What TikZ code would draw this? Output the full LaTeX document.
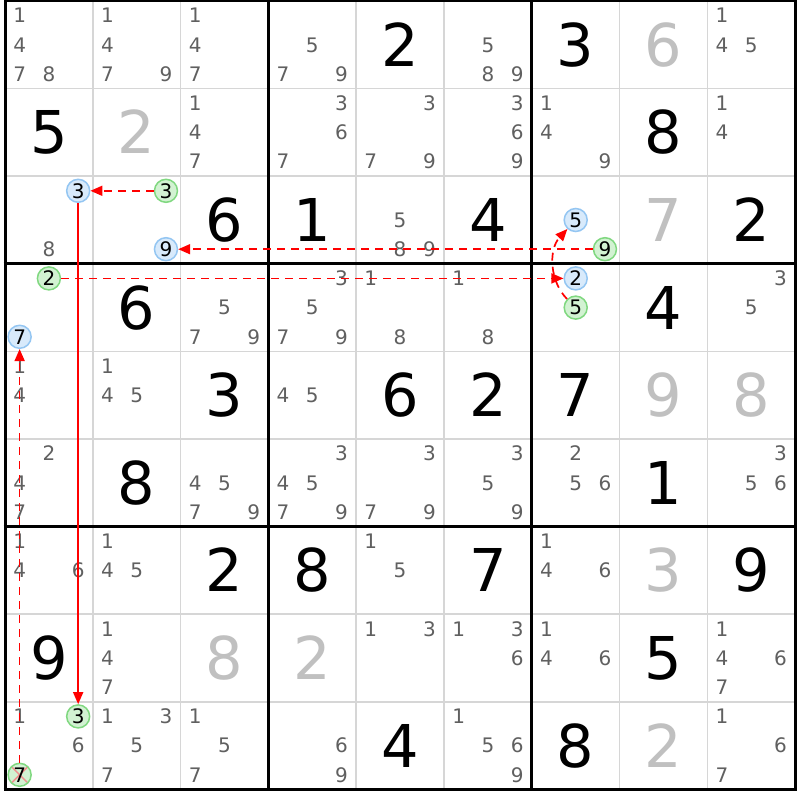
\documentclass[tikz,border=0pt]{standalone}
\usepackage{fontspec}
\setmainfont{DejaVu Sans}
\usetikzlibrary{arrows.meta}
\definecolor{candc}{HTML}{606060}
\definecolor{solvc}{HTML}{C0C0C0}
\definecolor{thinc}{HTML}{D6D6D6}
\definecolor{bfill}{HTML}{D8EAFB}
\definecolor{bdraw}{HTML}{94C6F2}
\definecolor{gfill}{HTML}{D2F2D2}
\definecolor{gdraw}{HTML}{80D880}
\definecolor{linkc}{HTML}{FF0000}
\definecolor{xcol}{HTML}{F09090}
\tikzset{
  bigdig/.style={inner sep=0pt,text height=43pt,text depth=0pt,font=\fontsize{59}{59}\selectfont},
  givdig/.style={bigdig,text=black},
  soldig/.style={bigdig,text=solvc},
  candig/.style={inner sep=0pt,text height=14.5pt,text depth=0pt,font=\fontsize{20}{20}\selectfont,text=candc},
  circdig/.style={circle,minimum size=23pt,inner sep=0pt,line width=1.5pt,text height=14.5pt,text depth=0pt,font=\fontsize{20}{20}\selectfont,text=black},
  bcirc/.style={circdig,fill=bfill,draw=bdraw},
  gcirc/.style={circdig,fill=gfill,draw=gdraw},
  linkline/.style={draw=linkc,line width=1.7pt,-{Triangle[length=12pt,width=10pt]}},
  linkdash/.style={linkline,dash pattern=on 8pt off 6pt},
}
\newcommand\bigd[4]{\node[#4] (big#1#2) at ({5+(#2-0.5)*87.8},{1+(#1-0.5)*87.6}) {#3};}
\newcommand\cands[3]{\foreach \d in {#3} {\node[candig] (c#1#2-\d) at ({5+(#2-1)*87.8+(mod(\d-1,3)+0.5)*29.2667},{1+(#1-1)*87.6+(floor((\d-1)/3)+0.5)*29.2}) {\d};}}
\newcommand\circd[5]{\node[#1] (#5) at ({5+(#3-1)*87.8+(mod(#4-1,3)+0.5)*29.2667},{1+(#2-1)*87.6+(floor((#4-1)/3)+0.5)*29.2}) {#4};}
\begin{document}
\begin{tikzpicture}[x=1pt,y=-1pt]
\fill[white] (0,0) rectangle (800,800);
\useasboundingbox (0,0) rectangle (800,800);
% thin grid
\foreach \i in {1,2,4,5,7,8} {
  \draw[thinc,line width=1.5pt] ({5+\i*87.8},1) -- ({5+\i*87.8},789.4);
  \draw[thinc,line width=1.5pt] (5,{1+\i*87.6}) -- (795.2,{1+\i*87.6});
}
\foreach \i in {0,3,6,9} {
  \draw[black,line width=3pt] ({5+\i*87.8},-0.5) -- ({5+\i*87.8},790.9);
  \draw[black,line width=3pt] (3.5,{1+\i*87.6}) -- (796.7,{1+\i*87.6});
}
% given / solved digits
\bigd{1}{5}{2}{givdig} \bigd{1}{7}{3}{givdig} \bigd{1}{8}{6}{soldig}
\bigd{2}{1}{5}{givdig} \bigd{2}{2}{2}{soldig} \bigd{2}{8}{8}{givdig}
\bigd{3}{3}{6}{givdig} \bigd{3}{4}{1}{givdig} \bigd{3}{6}{4}{givdig} \bigd{3}{8}{7}{soldig} \bigd{3}{9}{2}{givdig}
\bigd{4}{2}{6}{givdig} \bigd{4}{8}{4}{givdig}
\bigd{5}{3}{3}{givdig} \bigd{5}{5}{6}{givdig} \bigd{5}{6}{2}{givdig} \bigd{5}{7}{7}{givdig} \bigd{5}{8}{9}{soldig} \bigd{5}{9}{8}{soldig}
\bigd{6}{2}{8}{givdig} \bigd{6}{8}{1}{givdig}
\bigd{7}{3}{2}{givdig} \bigd{7}{4}{8}{givdig} \bigd{7}{6}{7}{givdig} \bigd{7}{8}{3}{soldig} \bigd{7}{9}{9}{givdig}
\bigd{8}{1}{9}{givdig} \bigd{8}{3}{8}{soldig} \bigd{8}{4}{2}{soldig} \bigd{8}{8}{5}{givdig}
\bigd{9}{5}{4}{givdig} \bigd{9}{7}{8}{givdig} \bigd{9}{8}{2}{soldig}
% candidates
\cands{1}{1}{1,4,7,8} \cands{1}{2}{1,4,7,9} \cands{1}{3}{1,4,7} \cands{1}{4}{5,7,9} \cands{1}{6}{5,8,9} \cands{1}{9}{1,4,5}
\cands{2}{3}{1,4,7} \cands{2}{4}{3,6,7} \cands{2}{5}{3,7,9} \cands{2}{6}{3,6,9} \cands{2}{7}{1,4,9} \cands{2}{9}{1,4}
\cands{3}{1}{8} \cands{3}{5}{5,8,9}
\cands{4}{3}{5,7,9} \cands{4}{4}{3,5,7,9} \cands{4}{5}{1,8} \cands{4}{6}{1,8} \cands{4}{9}{3,5}
\cands{5}{1}{1,4} \cands{5}{2}{1,4,5} \cands{5}{4}{4,5}
\cands{6}{1}{2,4,7} \cands{6}{3}{4,5,7,9} \cands{6}{4}{3,4,5,7,9} \cands{6}{5}{3,7,9} \cands{6}{6}{3,5,9} \cands{6}{7}{2,5,6} \cands{6}{9}{3,5,6}
\cands{7}{1}{1,4,6} \cands{7}{2}{1,4,5} \cands{7}{5}{1,5} \cands{7}{7}{1,4,6}
\cands{8}{2}{1,4,7} \cands{8}{5}{1,3} \cands{8}{6}{1,3,6} \cands{8}{7}{1,4,6} \cands{8}{9}{1,4,6,7}
\cands{9}{1}{1,6} \cands{9}{2}{1,3,5,7} \cands{9}{3}{1,5,7} \cands{9}{4}{6,9} \cands{9}{6}{1,5,6,9} \cands{9}{9}{1,6,7}
% circled candidates
\circd{bcirc}{3}{1}{3}{b31-3}
\circd{gcirc}{3}{2}{3}{g32-3}
\circd{bcirc}{3}{2}{9}{b32-9}
\circd{bcirc}{3}{7}{5}{b37-5}
\circd{gcirc}{3}{7}{9}{g37-9}
\circd{gcirc}{4}{1}{2}{g41-2}
\circd{bcirc}{4}{1}{7}{b41-7}
\circd{bcirc}{4}{7}{2}{b47-2}
\circd{gcirc}{4}{7}{5}{g47-5}
\circd{gcirc}{9}{1}{3}{g91-3}
\circd{gcirc,path picture={\draw[xcol,line width=1.5pt] (path picture bounding box.north west) -- (path picture bounding box.south east) (path picture bounding box.north east) -- (path picture bounding box.south west);}}{9}{1}{7}{g91-7}
% links
\draw[linkdash] (g32-3) -- (b31-3);
\draw[linkdash] (g37-9) -- (b32-9);
\draw[linkline] (b31-3) -- (g91-3);
\draw[linkdash] (g41-2) -- (b47-2);
\draw[linkdash] (g47-5) .. controls (550,282) and (548,250) .. (b37-5);
\draw[linkdash] (g91-7) -- (b41-7);
\end{tikzpicture}
\end{document}
